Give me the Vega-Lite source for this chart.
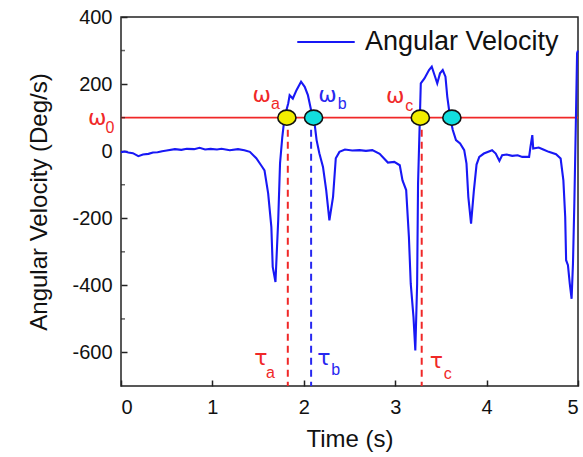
{
  "$schema": "https://vega.github.io/schema/vega-lite/v6.json",
  "width": 457,
  "height": 369,
  "autosize": {"type": "none"},
  "padding": {"left": 121, "top": 17, "right": 5, "bottom": 71},
  "background": "white",
  "config": {
    "view": {"stroke": "#222", "strokeWidth": 1.5},
    "axis": {
      "labelFont": "Liberation Sans", "titleFont": "Liberation Sans",
      "labelColor": "#111", "titleColor": "#111", "grid": false, "domain": false,
      "tickColor": "#222", "tickWidth": 1.5, "labelFontWeight": "normal", "titleFontWeight": "normal"
    }
  },
  "datasets": {
    "series": [
      {"t": 0.0, "v": -3}, {"t": 0.04, "v": -1}, {"t": 0.08, "v": -4}, {"t": 0.13, "v": -6}, {"t": 0.19, "v": -15}, {"t": 0.24, "v": -10}, {"t": 0.3, "v": -8}, {"t": 0.35, "v": -4}, {"t": 0.4, "v": -3},
      {"t": 0.45, "v": 0}, {"t": 0.5, "v": 2}, {"t": 0.59, "v": 6}, {"t": 0.66, "v": 4}, {"t": 0.72, "v": 7}, {"t": 0.8, "v": 6}, {"t": 0.86, "v": 10}, {"t": 0.92, "v": 5}, {"t": 0.98, "v": 7}, {"t": 1.05, "v": 5}, {"t": 1.1, "v": 7},
      {"t": 1.19, "v": 3}, {"t": 1.28, "v": 6}, {"t": 1.35, "v": 3}, {"t": 1.41, "v": -2}, {"t": 1.48, "v": -21}, {"t": 1.54, "v": -45}, {"t": 1.57, "v": -57},
      {"t": 1.61, "v": -126}, {"t": 1.645, "v": -226}, {"t": 1.66, "v": -345}, {"t": 1.69, "v": -390}, {"t": 1.72, "v": -206},
      {"t": 1.74, "v": -36}, {"t": 1.765, "v": 43}, {"t": 1.79, "v": 102}, {"t": 1.83, "v": 143}, {"t": 1.845, "v": 167},
      {"t": 1.88, "v": 157}, {"t": 1.92, "v": 182}, {"t": 1.97, "v": 207}, {"t": 2.01, "v": 192}, {"t": 2.045, "v": 167},
      {"t": 2.08, "v": 122}, {"t": 2.12, "v": 78}, {"t": 2.14, "v": 33}, {"t": 2.17, "v": -6}, {"t": 2.21, "v": -47},
      {"t": 2.245, "v": -116}, {"t": 2.28, "v": -206}, {"t": 2.32, "v": -136}, {"t": 2.35, "v": -21}, {"t": 2.39, "v": -2},
      {"t": 2.45, "v": 5}, {"t": 2.53, "v": 2}, {"t": 2.61, "v": 3}, {"t": 2.68, "v": 1}, {"t": 2.75, "v": 3}, {"t": 2.83, "v": -8},
      {"t": 2.92, "v": -34}, {"t": 2.99, "v": -32}, {"t": 3.05, "v": -42}, {"t": 3.08, "v": -87}, {"t": 3.12, "v": -116},
      {"t": 3.15, "v": -256}, {"t": 3.17, "v": -395}, {"t": 3.2, "v": -494}, {"t": 3.22, "v": -594}, {"t": 3.24, "v": -395},
      {"t": 3.25, "v": -96}, {"t": 3.27, "v": 102}, {"t": 3.28, "v": 202}, {"t": 3.32, "v": 217}, {"t": 3.37, "v": 242},
      {"t": 3.4, "v": 252}, {"t": 3.43, "v": 227}, {"t": 3.46, "v": 202}, {"t": 3.49, "v": 232}, {"t": 3.52, "v": 242},
      {"t": 3.55, "v": 222}, {"t": 3.57, "v": 162}, {"t": 3.6, "v": 102}, {"t": 3.63, "v": 63}, {"t": 3.665, "v": 33},
      {"t": 3.71, "v": 23}, {"t": 3.755, "v": 3}, {"t": 3.78, "v": -37}, {"t": 3.8, "v": -136}, {"t": 3.83, "v": -216},
      {"t": 3.86, "v": -120}, {"t": 3.89, "v": -40}, {"t": 3.92, "v": -17}, {"t": 3.97, "v": -7}, {"t": 4.06, "v": 3},
      {"t": 4.1, "v": -7}, {"t": 4.14, "v": -29}, {"t": 4.17, "v": -12}, {"t": 4.22, "v": -10}, {"t": 4.28, "v": -14}, {"t": 4.34, "v": -12}, {"t": 4.39, "v": -17},
      {"t": 4.465, "v": -17}, {"t": 4.48, "v": 13}, {"t": 4.5, "v": 48}, {"t": 4.51, "v": 8}, {"t": 4.57, "v": 11},
      {"t": 4.62, "v": 5}, {"t": 4.68, "v": -2}, {"t": 4.76, "v": -9}, {"t": 4.81, "v": -22}, {"t": 4.84, "v": -87}, {"t": 4.86, "v": -196},
      {"t": 4.87, "v": -325}, {"t": 4.89, "v": -340}, {"t": 4.91, "v": -395}, {"t": 4.93, "v": -440}, {"t": 4.945, "v": -335},
      {"t": 4.96, "v": -155}, {"t": 4.975, "v": 63}, {"t": 4.99, "v": 292}, {"t": 5.0, "v": 300}
    ],
    "threshold": [{"t": 0, "v": 100}, {"t": 5, "v": 100}],
    "minorTicks": [{"t": 0, "v": 300}, {"t": 0, "v": 100}, {"t": 0, "v": -100}, {"t": 0, "v": -300}, {"t": 0, "v": -500}],
    "tauRed": [{"t": 1.825, "v": 100, "v2": -700}, {"t": 3.29, "v": 100, "v2": -700}],
    "tauBlue": [{"t": 2.08, "v": 100, "v2": -700}],
    "crossUp": [{"t": 1.815, "v": 100}, {"t": 3.275, "v": 100}],
    "crossDown": [{"t": 2.107, "v": 100}, {"t": 3.62, "v": 100}],
    "redSymbols": [
      {"t": -0.26, "v": 98, "label": "ω"}, {"t": 1.54, "v": 167, "label": "ω"}, {"t": 3.0, "v": 165, "label": "ω"},
      {"t": 1.53, "v": -618, "label": "τ"}, {"t": 3.45, "v": -624, "label": "τ"}
    ],
    "redSubs": [
      {"t": -0.12, "v": 69, "label": "0"}, {"t": 1.69, "v": 140, "label": "a"}, {"t": 3.155, "v": 134, "label": "c"},
      {"t": 1.635, "v": -660, "label": "a"}, {"t": 3.575, "v": -665, "label": "c"}
    ],
    "blueSymbols": [{"t": 2.26, "v": 167, "label": "ω"}, {"t": 2.22, "v": -618, "label": "τ"}],
    "blueSubs": [{"t": 2.42, "v": 140, "label": "b"}, {"t": 2.35, "v": -653, "label": "b"}]
  },
  "layer": [
    {
      "data": {"name": "threshold"},
      "mark": {"type": "line", "color": "#f02828", "strokeWidth": 1.6},
      "encoding": {
        "x": {"field": "t", "type": "quantitative", "scale": {"domain": [0, 5]},
              "axis": {"values": [0, 1, 2, 3, 4, 5], "labelExpr": "'' + datum.value", "title": "Time (s)", "labelFontSize": 20, "titleFontSize": 24, "tickSize": -6, "labelPadding": 17, "titlePadding": 10}},
        "y": {"field": "v", "type": "quantitative", "scale": {"domain": [-700, 400]},
              "axis": {"values": [-600, -400, -200, 0, 200, 400], "labelExpr": "'' + datum.value", "title": "Angular Velocity (Deg/s)", "labelFontSize": 20, "titleFontSize": 24, "tickSize": -6, "labelPadding": 15, "titlePadding": 20}}
      }
    },
    {
      "data": {"name": "minorTicks"},
      "mark": {"type": "tick", "orient": "horizontal", "size": 4, "thickness": 1.5, "color": "#222", "xOffset": 2},
      "encoding": {"x": {"field": "t", "type": "quantitative"}, "y": {"field": "v", "type": "quantitative"}}
    },
    {
      "data": {"name": "tauRed"},
      "mark": {"type": "rule", "color": "#f02828", "strokeWidth": 2, "strokeDash": [7, 5]},
      "encoding": {"x": {"field": "t", "type": "quantitative"}, "y": {"field": "v", "type": "quantitative"}, "y2": {"field": "v2"}}
    },
    {
      "data": {"name": "tauBlue"},
      "mark": {"type": "rule", "color": "#2828f0", "strokeWidth": 2, "strokeDash": [7, 5]},
      "encoding": {"x": {"field": "t", "type": "quantitative"}, "y": {"field": "v", "type": "quantitative"}, "y2": {"field": "v2"}}
    },
    {
      "data": {"name": "series"},
      "mark": {"type": "line", "strokeWidth": 2.1},
      "encoding": {
        "x": {"field": "t", "type": "quantitative"},
        "y": {"field": "v", "type": "quantitative"},
        "color": {"datum": "Angular Velocity", "type": "nominal", "scale": {"range": ["#1818f5"]},
                  "legend": {"title": null, "orient": "none", "legendX": 175, "legendY": -5, "labelFontSize": 27, "labelLimit": 0, "labelFont": "Liberation Sans", "labelColor": "#111", "symbolType": "stroke", "symbolSize": 3300, "symbolStrokeWidth": 2, "labelOffset": 9, "padding": 0}}
      }
    },
    {
      "data": {"name": "crossUp"},
      "mark": {"type": "point", "shape": "M-1,0A1,0.83,0,1,1,1,0A1,0.83,0,1,1,-1,0Z", "size": 330, "filled": true, "fill": "#f2ee00", "stroke": "#111", "strokeWidth": 1.6, "opacity": 1},
      "encoding": {"x": {"field": "t", "type": "quantitative"}, "y": {"field": "v", "type": "quantitative"}}
    },
    {
      "data": {"name": "crossDown"},
      "mark": {"type": "point", "shape": "M-1,0A1,0.83,0,1,1,1,0A1,0.83,0,1,1,-1,0Z", "size": 330, "filled": true, "fill": "#12dede", "stroke": "#111", "strokeWidth": 1.6, "opacity": 1},
      "encoding": {"x": {"field": "t", "type": "quantitative"}, "y": {"field": "v", "type": "quantitative"}}
    },
    {
      "data": {"name": "redSymbols"},
      "mark": {"type": "text", "color": "#f02828", "fontSize": 22, "font": "DejaVu Sans", "align": "center", "baseline": "middle"},
      "encoding": {"x": {"field": "t", "type": "quantitative"}, "y": {"field": "v", "type": "quantitative"}, "text": {"field": "label"}}
    },
    {
      "data": {"name": "redSubs"},
      "mark": {"type": "text", "color": "#f02828", "fontSize": 16, "font": "Liberation Sans", "align": "center", "baseline": "middle"},
      "encoding": {"x": {"field": "t", "type": "quantitative"}, "y": {"field": "v", "type": "quantitative"}, "text": {"field": "label"}}
    },
    {
      "data": {"name": "blueSymbols"},
      "mark": {"type": "text", "color": "#2828f0", "fontSize": 22, "font": "DejaVu Sans", "align": "center", "baseline": "middle"},
      "encoding": {"x": {"field": "t", "type": "quantitative"}, "y": {"field": "v", "type": "quantitative"}, "text": {"field": "label"}}
    },
    {
      "data": {"name": "blueSubs"},
      "mark": {"type": "text", "color": "#2828f0", "fontSize": 16, "font": "Liberation Sans", "align": "center", "baseline": "middle"},
      "encoding": {"x": {"field": "t", "type": "quantitative"}, "y": {"field": "v", "type": "quantitative"}, "text": {"field": "label"}}
    }
  ]
}
